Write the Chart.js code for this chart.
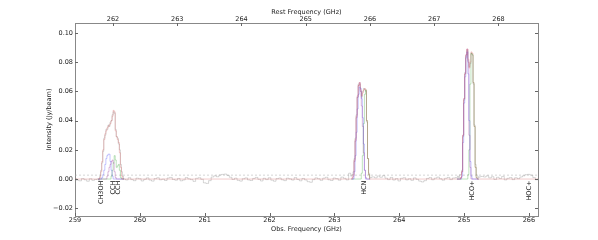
<!DOCTYPE html>
<html><head><meta charset="utf-8">
<script src="https://cdn.jsdelivr.net/npm/chart.js@4/dist/chart.umd.min.js"></script>
<style>html,body{margin:0;padding:0;background:#fff;}canvas{display:block;}</style>
</head><body>
<canvas id="c" width="598" height="240"></canvas>
<script>
// ---------- axes ----------
const obsTicks = [259, 260, 261, 262, 263, 264, 265, 266];
const restTicks = [262, 263, 264, 265, 266, 267, 268];
const yTicks = [-0.02, 0.00, 0.02, 0.04, 0.06, 0.08, 0.10];
const obsRange = [259.0, 266.14];
const restFactor = 1.0093;           // rest = obs * (1+z)
const yRange = [-0.0253, 0.1068];

// ---------- observed spectrum (baseline channels, mJy/beam) ----------
const baseStart = 259.0, baseWidth = 0.04;
const grayBaseline_mJy = [
 0.5,-0.8,-1.2,0.3,-0.5,-1.5,0.2,-0.9,-0.3,0.4,
 2,10,25,35,40,45,30,20,3,1.5,
 -0.6,0.9,-0.4,-1.1,0.6,0.2,-1.3,-0.2,0.8,-0.7,
 -1.4,0.3,0.9,-0.5,-0.1,-1.0,0.7,1.1,-0.3,-0.8,
 0.4,-1.2,-0.6,1.0,0.1,-0.4,-1.6,0.5,0.9,-0.2,
 -2.6,-3.0,-1.1,1.4,2.2,1.6,2.8,3.2,3.4,2.5,
 1.2,-0.3,0.6,-0.9,-1.4,0.2,0.8,-0.6,-1.0,0.4,
 1.1,-0.2,-1.3,0.5,-0.4,0.9,-0.8,-1.5,0.3,0.7,
 -0.5,-1.1,0.6,0.1,-0.7,1.0,-0.3,-1.2,0.4,-0.6,
 -1.8,-2.2,-0.4,0.8,0.2,-0.9,0.6,1.2,-0.5,-1.0,
 0.7,0.3,-0.8,1.3,0.5,-0.6,4.0,30,55,60,
 60,62,40,13,1.0,1.5,0.8,2.1,1.2,2.3,
 0.6,-0.4,1.1,-0.7,0.3,-1.3,0.5,0.9,-0.6,0.2,
 -0.9,0.8,-0.2,-1.4,-2.0,-1.1,0.4,1.0,-0.5,0.6,
 1.3,0.2,-0.8,0.5,1.1,-0.4,0.7,1.6,30,70,
 85,80,80,86,70,20,1.5,1.8,1.4,2.2,
 0.8,1.6,-0.3,1.2,0.4,1.8,-0.6,0.5,1.0,-0.4,
 0.9,0.3,1.4,2.2,3.0,3.2,2.6,1.0,-0.5,0.4,
 -0.2
];
const noise3sigma = 0.0027;

// ---------- line windows (fine channels, Jy/beam) ----------
const winStep = 0.016;
// CH3OH / CCH
const w1Start = 259.356;
const w1Gray   = [0.000,-0.001,0.002,0.006,0.011,0.019,0.028,0.030,0.034,0.034,0.037,0.036,0.039,0.040,0.044,0.046,0.045,0.034,0.029,0.028,0.024,0.020,0.010,0.005,0.002,0.000];
const w1Red    = [0,0,0.001,0.005,0.012,0.020,0.027,0.031,0.033,0.035,0.036,0.037,0.038,0.040,0.043,0.047,0.046,0.033,0.029,0.027,0.025,0.018,0.008,0.002,0,0];
const w1Purple = [0,0,0,0,0,0,0,0,0,0.002,0.005,0.008,0.010,0.012,0.013,0.011,0.005,0.001,0,0,0,0,0,0,0,0];
const w1Blue   = [0,0,0,0,0.001,0.003,0.006,0.010,0.014,0.016,0.017,0.017,0.012,0.006,0.002,0,0,0,0,0,0,0,0,0,0,0];
const w1Green  = [0,0,0,0,0,0,0,0,0,0,0,0,0,0.002,0.006,0.011,0.016,0.013,0.008,0.009,0.010,0.006,0.001,0,0,0];
// HCN
const w2Start = 263.263;
const w2Gray   = [0.002,0.003,0.005,0.014,0.028,0.044,0.056,0.065,0.065,0.060,0.056,0.060,0.062,0.061,0.060,0.039,0.014,0.004,0.001];
const w2Red    = [0,0.001,0.003,0.013,0.027,0.043,0.057,0.064,0.066,0.061,0.057,0.059,0.061,0.062,0.061,0.040,0.014,0.003,0];
const w2Purple = [0,0,0.002,0.012,0.026,0.042,0.056,0.064,0.066,0.060,0.050,0.036,0.018,0.006,0.001,0,0,0,0];
const w2Blue   = [0,0,0,0.005,0.016,0.032,0.048,0.058,0.063,0.062,0.055,0.042,0.024,0.006,0,0,0,0,0];
const w2Green  = [0,0,0,0,0,0,0,0,0,0,0.004,0.016,0.038,0.058,0.061,0.040,0.014,0.003,0];
// HCO+
const w3Start = 264.890;
const w3Gray   = [0.001,0.002,0.001,0.003,0.003,0.006,0.029,0.054,0.073,0.084,0.088,0.081,0.077,0.079,0.086,0.085,0.065,0.037,0.010,0.003,0.002,0.001];
const w3Red    = [0,0,0,0,0.001,0.005,0.030,0.055,0.072,0.085,0.089,0.082,0.076,0.080,0.087,0.086,0.066,0.036,0.008,0.001,0,0];
const w3Purple = [0,0,0,0,0.001,0.005,0.030,0.055,0.072,0.085,0.089,0.080,0.030,0.008,0,0,0,0,0,0,0,0];
const w3Blue   = [0,0,0,0,0,0.002,0.025,0.052,0.070,0.083,0.087,0.072,0.040,0.012,0.002,0,0,0,0,0,0,0];
const w3Green  = [0,0,0,0,0,0,0,0,0,0,0,0.003,0.020,0.065,0.086,0.085,0.066,0.036,0.008,0.001,0,0];

// ---------- line identifications ----------
const lineNames   = ['CH3OH', 'CCH', 'CCH', 'HCN', 'HCO+', 'HOC+'];
const lineObsFreq = [259.40, 259.586, 259.668, 263.456, 265.121, 266.008];

// ---------- build point lists ----------
const freqs = (start, n, step) => Array.from({length: n}, (_, i) => +(start + i * step).toFixed(4));
const pts = (fs, vs) => fs.map((f, i) => ({x: f, y: vs[i]}));
const windows = [
  {start: w1Start, n: w1Red.length, gray: w1Gray, red: w1Red, purple: w1Purple, blue: w1Blue, green: w1Green},
  {start: w2Start, n: w2Red.length, gray: w2Gray, red: w2Red, purple: w2Purple, blue: w2Blue, green: w2Green},
  {start: w3Start, n: w3Red.length, gray: w3Gray, red: w3Red, purple: w3Purple, blue: w3Blue, green: w3Green}
];
windows.forEach(w => { w.f = freqs(w.start, w.n, winStep); w.end = w.f[w.f.length - 1]; });

const baseF = freqs(baseStart, grayBaseline_mJy.length, baseWidth);
let grayPts = pts(baseF, grayBaseline_mJy.map(v => v / 1000))
  .filter(p => !windows.some(w => p.x >= w.start - 0.012 && p.x <= w.end + 0.012));
windows.forEach(w => { grayPts = grayPts.concat(pts(w.f, w.gray)); });
grayPts.sort((a, b) => a.x - b.x);

let redPts = [{x: obsRange[0], y: 0}];
windows.forEach(w => { redPts = redPts.concat(pts(w.f, w.red)); });
redPts.push({x: obsRange[1], y: 0});

function compPts(key) {
  let out = [];
  windows.forEach((w, i) => {
    if (i > 0) out.push({x: w.start - 0.1, y: null});
    out = out.concat(pts(w.f, w[key]));
  });
  return out;
}

const lw = 0.6;
const ds = (label, data, color, order, extra) => Object.assign({
  label, data, borderColor: color, borderWidth: lw, pointRadius: 0, stepped: 'middle',
  fill: false, spanGaps: false, order, xAxisID: 'x', yAxisID: 'y'
}, extra || {});

const datasets = [
  ds('3 sigma', [{x: obsRange[0], y: noise3sigma}, {x: obsRange[1], y: noise3sigma}], 'rgba(170,170,170,0.8)', 7, {stepped: false, borderDash: [2, 2]}),
  ds('observed', grayPts, 'rgba(120,120,120,0.5)', 6),
  ds('green', compPts('green'), 'rgba(40,160,40,0.5)', 4),
  ds('blue', compPts('blue'), 'rgba(60,60,250,0.5)', 3),
  ds('purple', compPts('purple'), 'rgba(150,50,150,0.55)', 2),
  ds('model', redPts, 'rgba(210,80,80,0.5)', 1)
];

// ---------- style helpers ----------
const FONT = {family: '"DejaVu Sans", sans-serif', size: 6.5};
const TXT = '#222';
const minus = s => s.replace('-', '\u2212');

const overlay = {
  id: 'overlay',
  afterDraw(chart) {
    const {ctx, chartArea: a, scales} = chart;
    ctx.save();
    ctx.strokeStyle = '#666';
    ctx.lineWidth = 1;
    const T = 3;
    ctx.beginPath();
    obsTicks.forEach(v => { const p = Math.round(scales.x.getPixelForValue(v)) + 0.5; ctx.moveTo(p, a.bottom); ctx.lineTo(p, a.bottom - T); });
    restTicks.forEach(v => { const p = Math.round(scales.x2.getPixelForValue(v)) + 0.5; ctx.moveTo(p, a.top); ctx.lineTo(p, a.top + T); });
    yTicks.forEach(v => {
      const p = Math.round(scales.y.getPixelForValue(v)) + 0.5;
      ctx.moveTo(a.left, p); ctx.lineTo(a.left + T, p);
      ctx.moveTo(a.right, p); ctx.lineTo(a.right - T, p);
    });
    ctx.stroke();
    // line identification labels
    ctx.fillStyle = '#111';
    ctx.font = '6.5px "DejaVu Sans", sans-serif';
    ctx.textAlign = 'right';
    ctx.textBaseline = 'middle';
    const y0 = scales.y.getPixelForValue(0) + 1.5;
    lineNames.forEach((n, i) => {
      const x = scales.x.getPixelForValue(lineObsFreq[i]);
      ctx.save();
      ctx.translate(x, y0);
      ctx.rotate(-Math.PI / 2);
      ctx.fillText(n, 0, 0);
      ctx.restore();
    });
    ctx.restore();
  }
};

const border = {display: true, color: '#888', width: 1};
const noGrid = {display: false, drawTicks: false, drawOnChartArea: false};

new Chart(document.getElementById('c'), {
  type: 'line',
  data: {datasets},
  options: {
    responsive: false, animation: false, devicePixelRatio: 1,
    parsing: true, normalized: true,
    layout: {padding: 0},
    plugins: {legend: {display: false}, tooltip: {enabled: false}},
    scales: {
      x: {
        type: 'linear', position: 'bottom', min: obsRange[0], max: obsRange[1],
        afterFit(s) { s.height = 24; },
        afterBuildTicks(s) { s.ticks = obsTicks.map(v => ({value: v})); },
        ticks: {font: FONT, color: TXT, padding: 0, maxRotation: 0, autoSkip: false, callback: v => String(v)},
        grid: noGrid, border,
        title: {display: true, text: 'Obs. Frequency (GHz)', font: FONT, color: TXT, padding: {top: 0, bottom: 7}}
      },
      x2: {
        type: 'linear', position: 'top', min: obsRange[0] * restFactor, max: obsRange[1] * restFactor,
        afterFit(s) { s.height = 23; },
        afterBuildTicks(s) { s.ticks = restTicks.map(v => ({value: v})); },
        ticks: {font: FONT, color: TXT, padding: 0, maxRotation: 0, autoSkip: false, callback: v => String(v)},
        grid: noGrid, border,
        title: {display: true, text: 'Rest Frequency (GHz)', font: FONT, color: TXT, padding: {top: 8.5, bottom: 0}}
      },
      y: {
        type: 'linear', position: 'left', min: yRange[0], max: yRange[1],
        afterFit(s) { s.width = 75; },
        afterBuildTicks(s) { s.ticks = yTicks.map(v => ({value: v})); },
        ticks: {font: FONT, color: TXT, padding: 2, autoSkip: false, callback: v => minus(v.toFixed(2))},
        grid: noGrid, border,
        title: {display: true, text: 'Intensity (Jy/beam)', font: FONT, color: TXT, padding: {top: 45.5, bottom: 0}}
      },
      y2: {
        type: 'linear', position: 'right', min: yRange[0], max: yRange[1],
        afterFit(s) { s.width = 60; },
        ticks: {display: false},
        grid: noGrid, border
      }
    }
  },
  plugins: [overlay]
});
</script>
</body></html>
